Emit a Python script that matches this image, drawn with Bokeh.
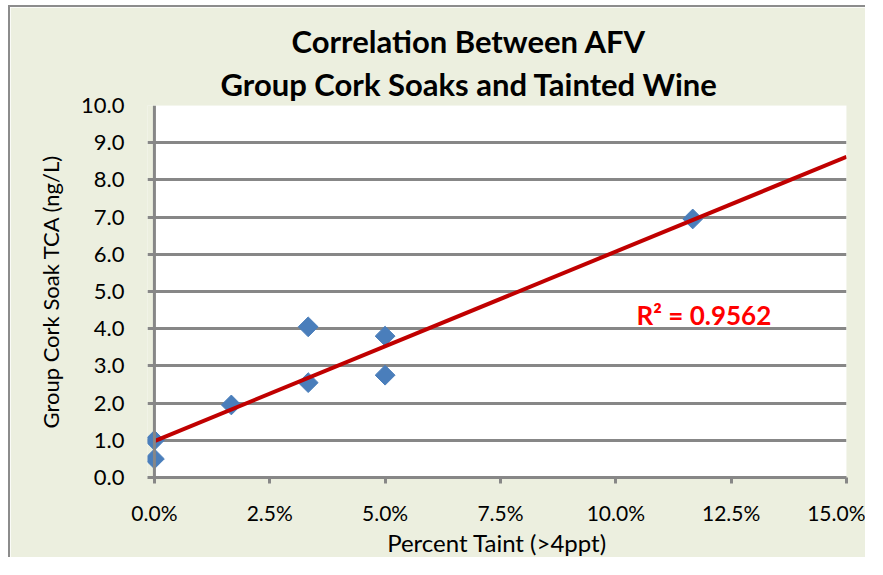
from bokeh.plotting import figure
from bokeh.models import (Range1d, NumeralTickFormatter, FixedTicker, Title, Label,
                          Span, BoxAnnotation, ColumnDataSource)
from bokeh.embed import file_html
from bokeh.resources import INLINE
import numpy as np

# ---- data ----
taint_pct = [0.0, 0.0, 0.01667, 0.03333, 0.03333, 0.05, 0.05, 0.11667]
tca_ng_l = [1.0, 0.5, 1.95, 4.05, 2.55, 3.8, 2.75, 6.95]
trend_x = [0.0, 0.15]
trend_y = [0.98, 8.62]
r2_text = "R² = 0.9562"
x_ticks = [0.0, 0.025, 0.05, 0.075, 0.10, 0.125, 0.15]
y_ticks = [0, 1, 2, 3, 4, 5, 6, 7, 8, 9, 10]
title_lines = ["Correlation Between AFV", "Group Cork Soaks and Tainted Wine"]
x_label = "Percent Taint (>4ppt)"
y_label = "Group Cork Soak TCA (ng/L)"

BG = "#ECEFDF"
GRID = "#878787"
FONT = "Lato"

p = figure(width=857, height=552, output_backend="svg", toolbar_location=None,
           x_range=Range1d(-0.0015, 0.15), y_range=Range1d(0, 10),
           min_border_left=137, min_border_right=21, min_border_top=98,
           min_border_bottom=81)
p.styles = {"margin-left": "8px", "margin-top": "5px",
            "border-left": "2px solid #8C8C8C", "border-top": "2px solid #8C8C8C"}
p.border_fill_color = BG
p.background_fill_color = BG
p.outline_line_color = None

# white plot area starting at x = 0
p.add_layout(BoxAnnotation(left=0, fill_color="white", fill_alpha=1.0,
                           line_color=None, level="image"))

# titles (innermost first)
p.add_layout(Title(text=title_lines[1], align="left", offset=73, text_font=FONT,
                   text_font_size="31px", text_font_style="bold",
                   text_color="black", standoff=6), "above")
p.add_layout(Title(text=title_lines[0], align="left", offset=144, text_font=FONT,
                   text_font_size="31px", text_font_style="bold",
                   text_color="black", standoff=0), "above")

# grid
p.xgrid.visible = False
p.ygrid.ticker = FixedTicker(ticks=y_ticks)
p.ygrid.grid_line_color = GRID
p.ygrid.grid_line_width = 3

# x axis
xa = p.xaxis[0]
xa.ticker = FixedTicker(ticks=x_ticks)
xa.formatter = NumeralTickFormatter(format="0.0%")
xa.axis_line_color = GRID
xa.axis_line_width = 3
xa.major_tick_line_color = GRID
xa.major_tick_line_width = 3
xa.major_tick_in = 0
xa.major_tick_out = 6
xa.minor_tick_line_color = None
xa.major_label_text_font = FONT
xa.major_label_text_font_size = "21px"
xa.major_label_text_color = "black"
xa.major_label_standoff = 16
xa.axis_label = x_label
xa.axis_label_text_font = FONT
xa.axis_label_text_font_size = "24px"
xa.axis_label_text_font_style = "normal"
xa.axis_label_text_color = "black"
xa.axis_label_standoff = 0

# y axis
ya = p.yaxis[0]
ya.ticker = FixedTicker(ticks=y_ticks)
ya.formatter = NumeralTickFormatter(format="0.0")
ya.axis_line_color = None
ya.major_tick_line_color = None
ya.minor_tick_line_color = None
ya.major_label_text_font = FONT
ya.major_label_text_font_size = "22px"
ya.major_label_text_color = "black"
ya.major_label_standoff = 17
ya.axis_label = y_label
ya.axis_label_text_font = FONT
ya.axis_label_text_font_size = "22px"
ya.axis_label_text_font_style = "normal"
ya.axis_label_text_color = "black"
ya.axis_label_standoff = 14

# vertical axis line at x = 0
p.add_layout(Span(location=0, dimension="height", line_color=GRID, line_width=3))

# data points (diamonds)
src = ColumnDataSource(dict(x=taint_pct, y=tca_ng_l))
p.scatter("x", "y", source=src, marker="square", size=14, angle=np.pi / 4,
          fill_color="#4A7EBB", line_color="#4A7EBB", line_width=1)

# trendline
p.line(trend_x, trend_y, line_color="#C00000", line_width=4)

# R^2 label
p.add_layout(Label(x=0.1045, y=4.38, text=r2_text, text_font=FONT,
                   text_font_size="26px", text_font_style="bold",
                   text_color="#FF0000", text_baseline="alphabetic"))

open("out.html", "w").write(file_html(p, INLINE))
